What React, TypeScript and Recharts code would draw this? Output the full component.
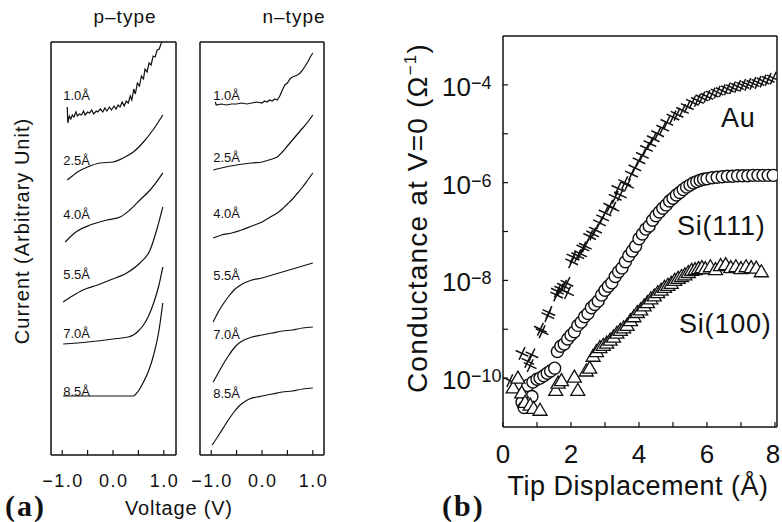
import React from 'react'
import { LineChart, Line, ScatterChart, Scatter, XAxis, YAxis, ReferenceDot } from 'recharts'

// ---- (a) tunneling spectra, [voltage (V), current (arb. unit, offset per gap)] ----
const gapLabels = ['1.0Å', '2.5Å', '4.0Å', '5.5Å', '7.0Å', '8.5Å']

const p10 = [
  [-0.9, 34.8], [-0.89, 33.2], [-0.86, 33.9], [-0.83, 33.6], [-0.8, 34.0], [-0.77, 33.8], [-0.73, 34.3],
  [-0.7, 33.9], [-0.66, 34.1], [-0.62, 34.0], [-0.58, 34.4], [-0.55, 34.0], [-0.5, 34.3], [-0.46, 34.2],
  [-0.42, 34.5], [-0.38, 34.1], [-0.33, 34.4], [-0.3, 34.3], [-0.25, 34.6], [-0.2, 34.3], [-0.16, 34.7],
  [-0.12, 34.4], [-0.07, 34.8], [-0.03, 34.5], [0.02, 34.9], [0.06, 34.6], [0.1, 35.0], [0.14, 34.8],
  [0.18, 35.3], [0.22, 34.9], [0.26, 35.4], [0.3, 35.2], [0.34, 35.9], [0.37, 35.5], [0.41, 36.6],
  [0.44, 36.1], [0.48, 37.2], [0.52, 36.9], [0.56, 37.9], [0.6, 37.6], [0.63, 38.6], [0.67, 38.3],
  [0.71, 39.2], [0.75, 39.0], [0.79, 39.9], [0.83, 39.8], [0.87, 40.5], [0.91, 40.6], [0.95, 41.2],
  [1.0, 41.6],
]
const p25 = [[-0.9, 27.5], [-0.8, 27.9], [-0.7, 28.3], [-0.5, 28.8], [-0.25, 29.2], [0, 29.3], [0.2, 29.7], [0.4, 30.3], [0.6, 31.3], [0.8, 32.6], [0.98, 34.0]]
const p40 = [[-0.94, 21.3], [-0.8, 22.0], [-0.7, 22.4], [-0.45, 23.0], [-0.12, 23.5], [0.14, 23.8], [0.33, 24.5], [0.53, 25.5], [0.73, 26.5], [0.98, 28.2]]
const p55 = [[-0.98, 15.3], [-0.8, 15.9], [-0.59, 16.5], [-0.3, 17.0], [-0.06, 17.5], [0.27, 18.2], [0.53, 19.2], [0.73, 20.5], [0.86, 22.5], [0.98, 24.8]]
const p70 = [[-0.98, 11.1], [-0.5, 11.3], [0, 11.6], [0.3, 11.8], [0.4, 12.0], [0.5, 12.4], [0.6, 13.0], [0.7, 13.9], [0.8, 15.2], [0.9, 16.9], [0.98, 18.8]]
const p85 = [[-0.98, 5.9], [0, 5.9], [0.4, 5.9], [0.45, 6.1], [0.5, 6.4], [0.6, 7.3], [0.7, 8.4], [0.8, 10.0], [0.9, 12.3], [0.98, 15.2]]

const n10 = [
  [-0.92, 35.3], [-0.9, 35.0], [-0.8, 35.1], [-0.7, 35.0], [-0.6, 35.1], [-0.5, 35.1], [-0.4, 35.2],
  [-0.3, 35.1], [-0.2, 35.2], [-0.1, 35.3], [0, 35.2], [0.05, 35.4], [0.1, 35.3], [0.15, 35.5],
  [0.2, 35.4], [0.25, 35.6], [0.3, 35.5], [0.35, 35.9], [0.4, 36.5], [0.45, 37.0], [0.5, 37.2],
  [0.55, 37.6], [0.6, 37.8], [0.65, 37.9], [0.7, 38.0], [0.75, 38.2], [0.8, 38.5], [0.85, 38.9],
  [0.9, 39.3], [0.95, 39.8], [1.0, 40.2],
]
const n25 = [[-0.96, 28.5], [-0.8, 28.7], [-0.5, 29.0], [-0.2, 29.2], [0, 29.3], [0.2, 29.6], [0.3, 29.8], [0.4, 30.3], [0.5, 30.9], [0.6, 31.5], [0.7, 32.1], [0.8, 32.7], [0.9, 33.3], [1.0, 34.0]]
const n40 = [[-0.96, 21.7], [-0.8, 22.0], [-0.6, 22.2], [-0.4, 22.5], [-0.2, 22.9], [0, 23.3], [0.2, 23.9], [0.3, 24.2], [0.4, 24.6], [0.5, 25.1], [0.6, 25.6], [0.7, 26.2], [0.8, 26.8], [0.9, 27.5], [1.0, 28.2]]
const n55 = [[-0.96, 13.3], [-0.85, 14.4], [-0.75, 15.2], [-0.65, 15.9], [-0.55, 16.5], [-0.45, 16.9], [-0.35, 17.2], [-0.2, 17.5], [0, 17.7], [0.2, 18.0], [0.4, 18.3], [0.6, 18.6], [0.8, 18.9], [1.0, 19.2]]
const n70 = [[-0.96, 7.3], [-0.85, 8.3], [-0.75, 9.2], [-0.65, 10.0], [-0.55, 10.7], [-0.45, 11.2], [-0.35, 11.5], [-0.2, 11.8], [0, 12.0], [0.2, 12.2], [0.4, 12.4], [0.6, 12.5], [0.8, 12.7], [1.0, 12.8]]
const n85 = [[-0.98, 1.0], [-0.85, 2.0], [-0.75, 2.8], [-0.65, 3.6], [-0.55, 4.3], [-0.45, 4.9], [-0.35, 5.3], [-0.25, 5.6], [-0.1, 5.8], [0, 5.9], [0.2, 6.1], [0.4, 6.3], [0.6, 6.4], [0.8, 6.6], [1.0, 6.7]]

const pLabelLevels = [35.5, 29.0, 23.6, 17.6, 11.7, 5.9]
const nLabelLevels = [35.5, 29.3, 23.7, 17.5, 11.6, 5.7]
const voltTicks = [-1, -0.5, 0, 0.5, 1]

// ---- (b) zero-bias conductance, [tip displacement (Å), G (1/Ω)] ----
const auData = [
  [0.2, 8.9e-11], [0.56, 3.2e-10], [0.73, 2.2e-10], [0.8, 1.8e-10], [0.85, 3.0e-10], [1.1, 1.0e-9],
  [1.15, 8.9e-10], [1.32, 1.9e-9], [1.35, 2.2e-9], [1.58, 5.0e-9], [1.6, 6.0e-9], [1.7, 6.6e-9],
  [1.78, 7.6e-9], [1.88, 8.7e-9], [1.9, 5.6e-9], [2.02, 2.4e-8], [2.06, 3.0e-8], [2.2, 3.2e-8],
  [2.28, 3.5e-8], [2.35, 4.6e-8], [2.42, 5.0e-8], [2.55, 7.9e-8], [2.64, 8.9e-8], [2.72, 1.07e-7],
  [2.84, 1.5e-7], [2.93, 1.9e-7], [3.0, 2.4e-7], [3.14, 3.3e-7], [3.23, 3.0e-7], [3.3, 5.0e-7],
  [3.38, 7.6e-7], [3.45, 5.6e-7], [3.58, 1.0e-6], [3.66, 8.9e-7], [3.78, 1.5e-6], [3.88, 2.0e-6],
  [4.0, 2.8e-6], [4.1, 3.6e-6], [4.22, 5.0e-6], [4.32, 6.3e-6], [4.42, 7.9e-6], [4.55, 1.0e-5],
  [4.7, 1.3e-5], [4.82, 1.7e-5], [5.0, 2.2e-5], [5.12, 2.5e-5], [5.28, 3.0e-5], [5.42, 3.6e-5],
  [5.57, 4.4e-5], [5.72, 4.8e-5], [5.85, 5.4e-5], [6.0, 5.8e-5], [6.15, 6.5e-5], [6.3, 7.1e-5],
  [6.45, 7.6e-5], [6.6, 8.3e-5], [6.75, 8.7e-5], [6.9, 9.3e-5], [7.05, 9.8e-5], [7.2, 1.02e-4],
  [7.35, 1.07e-4], [7.5, 1.12e-4], [7.65, 1.2e-4], [7.8, 1.3e-4], [7.95, 1.38e-4],
]
const si111Data = [
  [0.56, 3.2e-11], [0.62, 2.5e-11], [0.65, 5.0e-11], [0.73, 7.1e-11], [0.85, 4.2e-11], [0.88, 8.3e-11],
  [1.0, 9.5e-11], [1.09, 1.0e-10], [1.2, 1.12e-10], [1.3, 1.26e-10], [1.4, 1.4e-10], [1.52, 1.6e-10],
  [1.6, 3.5e-10], [1.7, 4.5e-10], [1.8, 5.0e-10], [1.9, 6.3e-10], [2.0, 7.6e-10], [2.1, 8.9e-10],
  [2.2, 1.2e-9], [2.3, 1.4e-9], [2.4, 1.8e-9], [2.5, 2.1e-9], [2.6, 2.75e-9], [2.7, 3.2e-9],
  [2.8, 3.8e-9], [2.9, 5.0e-9], [3.0, 6.3e-9], [3.1, 7.6e-9], [3.2, 8.9e-9], [3.3, 1.2e-8],
  [3.4, 1.5e-8], [3.5, 1.8e-8], [3.6, 2.4e-8], [3.7, 3.2e-8], [3.8, 4.0e-8], [3.9, 5.0e-8],
  [4.0, 7.1e-8], [4.1, 8.9e-8], [4.2, 1.12e-7], [4.3, 1.3e-7], [4.4, 1.7e-7], [4.5, 2.1e-7],
  [4.6, 2.5e-7], [4.7, 3.0e-7], [4.8, 3.5e-7], [4.9, 4.2e-7], [5.0, 4.8e-7], [5.1, 5.6e-7],
  [5.2, 6.3e-7], [5.3, 7.2e-7], [5.4, 8.1e-7], [5.5, 8.9e-7], [5.6, 9.8e-7], [5.7, 1.05e-6],
  [5.8, 1.12e-6], [5.9, 1.17e-6], [6.0, 1.2e-6], [6.15, 1.26e-6], [6.3, 1.29e-6], [6.45, 1.32e-6],
  [6.6, 1.35e-6], [6.75, 1.35e-6], [6.9, 1.38e-6], [7.05, 1.38e-6], [7.2, 1.38e-6], [7.35, 1.41e-6],
  [7.5, 1.41e-6], [7.65, 1.41e-6], [7.8, 1.41e-6], [7.95, 1.41e-6],
]
const si100Data = [
  [0.3, 6.3e-11], [0.44, 1.0e-10], [0.55, 5.0e-11], [0.65, 3.2e-11], [0.8, 2.8e-11], [0.9, 2.4e-11],
  [1.09, 2.2e-11], [1.55, 5.6e-11], [1.62, 7.9e-11], [1.72, 8.9e-11], [2.1, 1.05e-10], [2.2, 5.6e-11],
  [2.45, 1.4e-10], [2.55, 1.6e-10], [2.65, 2.8e-10], [2.75, 3.5e-10], [2.85, 4.2e-10], [2.95, 4.7e-10],
  [3.05, 5.2e-10], [3.15, 6.0e-10], [3.25, 6.9e-10], [3.35, 8.3e-10], [3.45, 9.5e-10], [3.55, 1.07e-9],
  [3.65, 1.2e-9], [3.75, 1.5e-9], [3.85, 1.8e-9], [3.95, 2.2e-9], [4.05, 2.5e-9], [4.15, 3.0e-9],
  [4.25, 3.5e-9], [4.35, 4.2e-9], [4.45, 4.8e-9], [4.55, 5.6e-9], [4.65, 6.3e-9], [4.75, 7.2e-9],
  [4.85, 7.9e-9], [4.95, 8.7e-9], [5.05, 1.0e-8], [5.15, 1.1e-8], [5.25, 1.2e-8], [5.35, 1.3e-8],
  [5.45, 1.45e-8], [5.55, 1.6e-8], [5.65, 1.66e-8], [5.75, 1.74e-8], [5.85, 1.82e-8], [5.95, 1.74e-8],
  [6.1, 1.9e-8], [6.25, 1.66e-8], [6.4, 2.0e-8], [6.55, 2.1e-8], [6.7, 1.82e-8], [6.85, 1.9e-8],
  [7.0, 1.74e-8], [7.15, 1.9e-8], [7.3, 1.82e-8], [7.45, 1.78e-8], [7.6, 1.5e-8],
]
const seriesNames = ['Au', 'Si(111)', 'Si(100)']
const dispTicks = [0, 1, 2, 3, 4, 5, 6, 7, 8]
const condTicks = [1e-10, 1e-9, 1e-8, 1e-7, 1e-6, 1e-5, 1e-4]

// where the series names sit (data coords)
const nameSpots = [
  { x: 6.92, g: 2.2e-5 },
  { x: 6.42, g: 1.35e-7 },
  { x: 6.54, g: 1.3e-9 },
]

const INK = '#111'
const FONT = '"Liberation Sans", Arial, Helvetica, sans-serif'
const SERIF = '"Liberation Serif", "Times New Roman", serif'

const toRows = (pairs: number[][]) => pairs.map(([v, i]) => ({ v, i }))
const toPts = (pairs: number[][]) => pairs.map(([x, g]) => ({ x, g }))

function VoltTick(props: any) {
  const { x, y, payload } = props
  if (payload.value % 1 !== 0) return null
  const txt = payload.value.toFixed(1).replace('-', '−')
  return (
    <text x={x + 0.75} y={y} dy="0.71em" textAnchor="middle" fontSize={18} letterSpacing={1.5} fill={INK} fontFamily={FONT}>
      {txt}
    </text>
  )
}

function DispTick(props: any) {
  const { x, y, payload } = props
  if (payload.value % 2 !== 0) return null
  // keep the last digit inside the page
  return (
    <text x={Math.min(x, 773)} y={y} dy="0.71em" textAnchor="middle" fontSize={26} fill={INK} fontFamily={FONT}>
      {payload.value}
    </text>
  )
}

function CondTick(props: any) {
  const { x, y, payload } = props
  const e = Math.round(Math.log10(payload.value))
  if (e % 2 !== 0) return null
  return (
    <text x={x} y={y + 11} fontSize={26} fill={INK} fontFamily={FONT}>
      10<tspan dy={-7} fontSize={18}>{'−' + Math.abs(e)}</tspan>
    </text>
  )
}

function AuMark(props: any) {
  const { cx, cy } = props
  return (
    <g transform={`translate(${cx},${cy}) rotate(25)`} stroke={INK} strokeWidth={1.5}>
      <line x1={-7} y1={0} x2={7} y2={0} />
      <line x1={0} y1={-7} x2={0} y2={7} />
    </g>
  )
}

function CircleMark(props: any) {
  const { cx, cy } = props
  return <circle cx={cx} cy={cy} r={6} fill="#fff" stroke={INK} strokeWidth={1.4} />
}

function TriMark(props: any) {
  const { cx, cy } = props
  return (
    <polygon
      points={`${cx},${cy - 7} ${cx + 7},${cy + 5} ${cx - 7},${cy + 5}`}
      fill="#fff"
      stroke={INK}
      strokeWidth={1.3}
    />
  )
}

type PanelProps = {
  curves: number[][][]
  levels: number[]
  labelV: number
  left: number
  width: number
  plotLeft: number
  plotRight: number
  domain: [number, number]
}

function SpectraPanel({ curves, levels, labelV, left, width, plotLeft, plotRight, domain }: PanelProps) {
  const frame = { stroke: INK, strokeWidth: 1.5 }
  return (
    <div style={{ position: 'absolute', left, top: 0 }}>
      <LineChart
        width={width}
        height={522}
        margin={{ top: 41, left: plotLeft - left - 1, right: left + width - plotRight - 1, bottom: 27 }}
      >
        <XAxis
          xAxisId="b"
          type="number"
          dataKey="v"
          domain={domain}
          allowDataOverflow
          ticks={voltTicks}
          interval={0}
          height={40}
          tickSize={-5}
          tickMargin={24}
          axisLine={frame}
          tickLine={{ stroke: INK, strokeWidth: 1.2 }}
          tick={<VoltTick />}
        />
        <XAxis
          xAxisId="t"
          orientation="top"
          type="number"
          dataKey="v"
          domain={domain}
          allowDataOverflow
          ticks={[-1, 0, 1]}
          interval={0}
          height={1}
          tickSize={-4}
          axisLine={frame}
          tickLine={{ stroke: INK, strokeWidth: 1.2 }}
          tick={false}
        />
        <YAxis yAxisId="l" type="number" domain={[0, 41.3]} allowDataOverflow width={1} axisLine={frame} tickLine={false} tick={false} />
        <YAxis yAxisId="r" orientation="right" type="number" domain={[0, 41.3]} allowDataOverflow width={1} axisLine={frame} tickLine={false} tick={false} />
        {curves.map((c, i) => (
          <Line
            key={'c' + i}
            xAxisId="b"
            yAxisId="l"
            data={toRows(c)}
            dataKey="i"
            type={i === 0 ? 'linear' : 'monotone'}
            dot={false}
            stroke={INK}
            strokeWidth={1.2}
            isAnimationActive={false}
          />
        ))}
        {levels.map((lv, i) => (
          <ReferenceDot
            key={'l' + i}
            xAxisId="b"
            yAxisId="l"
            x={labelV}
            y={lv}
            r={1}
            shape={(p: any) => (
              <text x={p.cx} y={p.cy} fontSize={13} fill={INK} fontFamily={FONT}>
                {gapLabels[i]}
              </text>
            )}
          />
        ))}
      </LineChart>
    </div>
  )
}

export default function App() {
  const frame = { stroke: INK, strokeWidth: 1.5 }
  const marks = [AuMark, CircleMark, TriMark]
  const sets = [auData, si111Data, si100Data]
  return (
    <div style={{ position: 'absolute', left: 0, top: 0, width: 782, height: 522, background: '#fff', overflow: 'hidden', fontFamily: FONT }}>
      <SpectraPanel
        curves={[p10, p25, p40, p55, p70, p85]}
        levels={pLabelLevels}
        labelV={-0.98}
        left={0}
        width={190}
        plotLeft={51}
        plotRight={176}
        domain={[-1.22, 1.24]}
      />
      <SpectraPanel
        curves={[n10, n25, n40, n55, n70, n85]}
        levels={nLabelLevels}
        labelV={-0.96}
        left={190}
        width={160}
        plotLeft={200}
        plotRight={324}
        domain={[-1.22, 1.22]}
      />

      <div style={{ position: 'absolute', left: 0, top: 0 }}>
        <ScatterChart width={782} height={522} margin={{ top: 35, left: 443, right: 0, bottom: 55 }}>
          <XAxis
            xAxisId="b"
            type="number"
            dataKey="x"
            domain={[0, 8.06]}
            allowDataOverflow
            ticks={dispTicks}
            interval={0}
            height={40}
            tickSize={-5}
            tickMargin={23}
            axisLine={frame}
            tickLine={{ stroke: INK, strokeWidth: 1.2 }}
            tick={<DispTick />}
          />
          <XAxis
            xAxisId="t"
            orientation="top"
            type="number"
            dataKey="x"
            domain={[0, 8.06]}
            allowDataOverflow
            ticks={dispTicks}
            interval={0}
            height={1}
            tickSize={-5}
            axisLine={frame}
            tickLine={{ stroke: INK, strokeWidth: 1.2 }}
            tick={false}
          />
          <YAxis
            yAxisId="l"
            type="number"
            dataKey="g"
            scale="log"
            domain={[1e-11, 1e-3]}
            allowDataOverflow
            ticks={condTicks}
            interval={0}
            width={60}
            tickSize={-5}
            tickMargin={66}
            axisLine={frame}
            tickLine={{ stroke: INK, strokeWidth: 1.2 }}
            tick={<CondTick />}
          />
          <YAxis
            yAxisId="r"
            orientation="right"
            type="number"
            dataKey="g"
            scale="log"
            domain={[1e-11, 1e-3]}
            allowDataOverflow
            ticks={condTicks}
            interval={0}
            width={5}
            tickSize={-5}
            axisLine={frame}
            tickLine={{ stroke: INK, strokeWidth: 1.2 }}
            tick={false}
          />
          {sets.map((s, i) => {
            const Mark = marks[i]
            return (
              <Scatter
                key={seriesNames[i]}
                name={seriesNames[i]}
                xAxisId="b"
                yAxisId="l"
                data={toPts(s)}
                shape={(p: any) => <Mark cx={p.cx} cy={p.cy} />}
                isAnimationActive={false}
              />
            )
          })}
          {nameSpots.map((s, i) => (
            <ReferenceDot
              key={'n' + i}
              xAxisId="b"
              yAxisId="l"
              x={s.x}
              y={s.g}
              r={1}
              shape={(p: any) => (
                <text x={p.cx} y={p.cy} dy="0.36em" textAnchor="middle" fontSize={27} letterSpacing={0.8} fill={INK} fontFamily={FONT}>
                  {seriesNames[i]}
                </text>
              )}
            />
          ))}
        </ScatterChart>
      </div>

      <svg width={782} height={522} style={{ position: 'absolute', left: 0, top: 0, pointerEvents: 'none' }} fontFamily={FONT} fill={INK}>
        <text x={125} y={23} textAnchor="middle" fontSize={19} letterSpacing={1}>p–type</text>
        <text x={294} y={23} textAnchor="middle" fontSize={19} letterSpacing={1}>n–type</text>
        <text transform="translate(29,231) rotate(-90)" textAnchor="middle" fontSize={20} letterSpacing={1}>
          Current (Arbitrary Unit)
        </text>
        <text x={125} y={515} fontSize={20} letterSpacing={0.8}>Voltage (V)</text>
        <text x={5} y={516} fontSize={30} fontWeight="bold" letterSpacing={2} fontFamily={SERIF}>(a)</text>
        <text x={442} y={516} fontSize={30} fontWeight="bold" letterSpacing={2} fontFamily={SERIF}>(b)</text>
        <text transform="translate(427,218) rotate(-90)" textAnchor="middle" fontSize={28} letterSpacing={1.2}>
          Conductance at V=0 (Ω<tspan dy={-11} fontSize={17}>−1</tspan><tspan dy={11}>)</tspan>
        </text>
        <text x={638} y={495} textAnchor="middle" fontSize={27} letterSpacing={0.5}>Tip Displacement (Å)</text>
      </svg>
    </div>
  )
}
